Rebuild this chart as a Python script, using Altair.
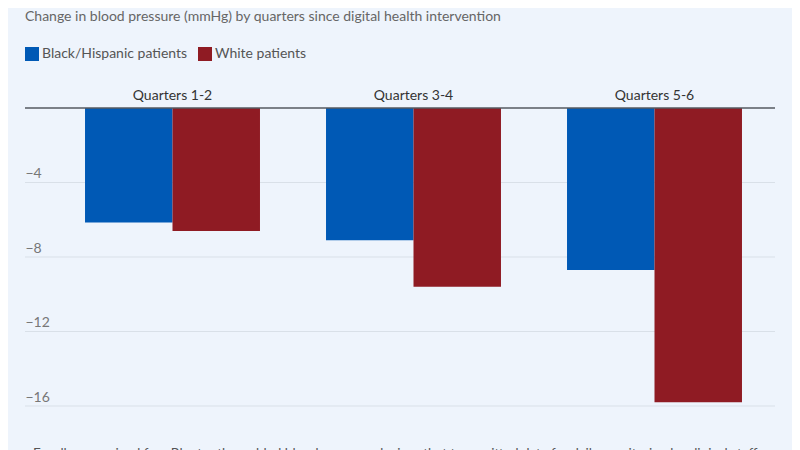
import altair as alt
import pandas as pd

quarters = ["Quarters 1-2", "Quarters 3-4", "Quarters 5-6"]
groups = ["Black/Hispanic patients", "White patients"]
black_hispanic = [-6.15, -7.1, -8.7]
white = [-6.6, -9.6, -15.8]
grid_values = [-4, -8, -12, -16]
zero_value = [0]

title_text = "Change in blood pressure (mmHg) by quarters since digital health intervention"
footnote_text = ("Enrollees received free Bluetooth-enabled blood pressure devices that transmitted "
                 "data for daily monitoring by clinical staff")

BLUE = "#0059b5"
RED = "#8f1b23"
BG = "#eef4fc"
FONT = "Lato"

rows = []
for q, b, w in zip(quarters, black_hispanic, white):
    rows.append({"quarter": q, "group": groups[0], "value": b})
    rows.append({"quarter": q, "group": groups[1], "value": w})
df = pd.DataFrame(rows)

W, H = 723, 298

yscale = alt.Scale(domain=[-16, 0], nice=False, zero=True)
yaxis = alt.Axis(
    values=grid_values, title=None, grid=False, domain=False, ticks=False,
    tickSize=0, labelAlign="left", labelPadding=27, labelBaseline="bottom",
    labelOffset=-2, labelFontSize=14, labelFont=FONT, labelColor="#777777",
)

grid = alt.Chart(pd.DataFrame({"value": grid_values})).mark_rule(
    color="#d9e0e8", strokeWidth=1
).encode(
    y=alt.Y("value:Q", scale=yscale, axis=yaxis),
    x=alt.value(-27),
    x2=alt.value(W),
)

bars = alt.Chart(df).mark_bar().encode(
    x=alt.X(
        "quarter:N",
        sort=quarters,
        scale=alt.Scale(paddingInner=0.274, paddingOuter=0.137),
        axis=alt.Axis(
            orient="top", title=None, domain=False, ticks=False, tickSize=0,
            labelAngle=0, labelPadding=9, labelFontSize=14, labelFont=FONT,
            labelColor="#333333", labelBaseline="alphabetic",
        ),
    ),
    xOffset=alt.XOffset("group:N", sort=groups,
                        scale=alt.Scale(paddingInner=0, paddingOuter=0)),
    y=alt.Y("value:Q", scale=yscale, axis=yaxis),
    color=alt.Color(
        "group:N",
        sort=groups,
        scale=alt.Scale(domain=groups, range=[BLUE, RED]),
        legend=alt.Legend(
            orient="none", legendX=-27, legendY=-61, direction="horizontal",
            title=None, symbolType="square", symbolSize=196, symbolStrokeWidth=0,
            symbolOpacity=1, labelFontSize=14, labelFont=FONT, labelColor="#555555",
            columnPadding=10, labelOffset=3,
        ),
    ),
)

zero = alt.Chart(pd.DataFrame({"value": zero_value})).mark_rule(
    color="#555a60", strokeWidth=1.5
).encode(
    y=alt.Y("value:Q", scale=yscale, axis=yaxis),
    x=alt.value(-27),
    x2=alt.value(W),
)

foot = alt.Chart(pd.DataFrame({"t": [footnote_text]})).mark_text(
    align="left", baseline="top", fontSize=13.5, font=FONT, color="#555555"
).encode(
    x=alt.value(-19),
    y=alt.value(H + 41),
    text="t:N",
)

chart = alt.layer(grid, bars, zero, foot).properties(
    width=W,
    height=H,
    autosize=alt.AutoSizeParams(type="none"),
    padding={"left": 44, "top": 100, "right": 17, "bottom": 46},
    background=BG,
    title=alt.TitleParams(
        text=title_text, anchor="start", frame="group", dx=-27, dy=-19,
        fontSize=14, font=FONT, fontWeight="normal", color="#666666",
    ),
).configure_view(stroke=None)

chart.save("out.html", embed_options={"renderer": "svg", "actions": False})
